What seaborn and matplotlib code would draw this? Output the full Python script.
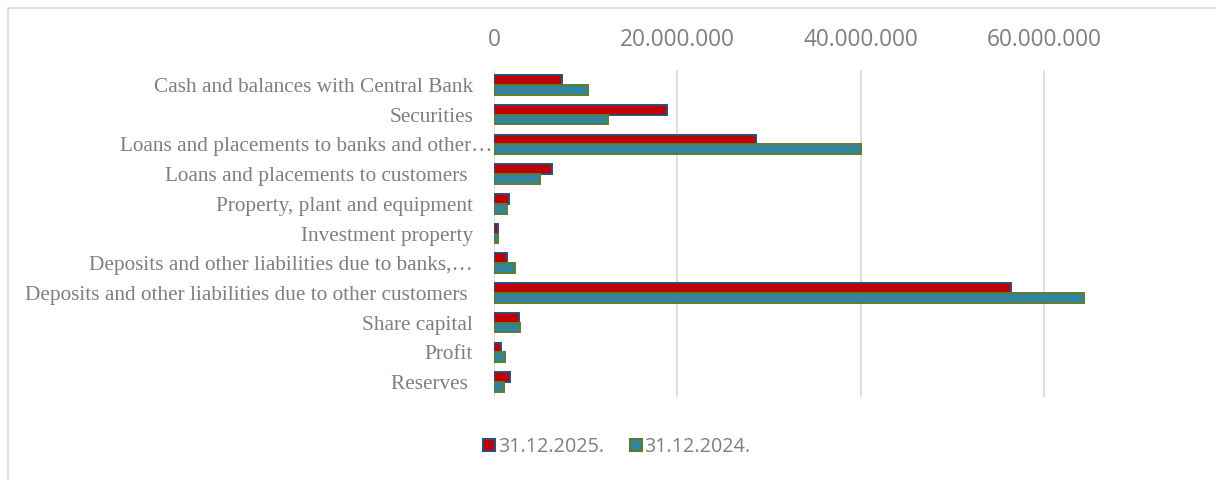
import matplotlib
matplotlib.use("Agg")
import matplotlib.pyplot as plt
import matplotlib.patches as mpatches
import matplotlib.transforms as mtransforms
from matplotlib.ticker import FuncFormatter, MultipleLocator
import pandas as pd
import seaborn as sns

# Balance sheet items (amounts)
items = [
    "Cash and balances with Central Bank",
    "Securities",
    "Loans and placements to banks and other…",
    "Loans and placements to customers ",
    "Property, plant and equipment",
    "Investment property",
    "Deposits and other liabilities due to banks,…",
    "Deposits and other liabilities due to other customers ",
    "Share capital",
    "Profit",
    "Reserves ",
]
periods = ["31.12.2025.", "31.12.2024."]
values_2025 = [7420000, 18880000, 28570000, 6340000, 1600000, 490000,
               1380000, 56400000, 2760000, 760000, 1750000]
values_2024 = [10260000, 12450000, 40000000, 5000000, 1470000, 490000,
               2280000, 64300000, 2800000, 1200000, 1050000]

bar_colors = ["#C00000", "#31849B"]
edge_colors = ["#2E4D7B", "#5E7B2C"]
grey_text = "#7F7F7F"
grid_grey = "#D9D9D9"

df = pd.DataFrame({
    "item": items * 2,
    "period": [periods[0]] * len(items) + [periods[1]] * len(items),
    "value": values_2025 + values_2024,
})

sns.set_theme(style="white")
fig = plt.figure(figsize=(12.16, 4.8), dpi=100)
ax = fig.add_axes([494 / 1216, 1 - 397 / 480, (1136 - 494) / 1216, (397 - 70) / 480])

sns.barplot(data=df, y="item", x="value", hue="period", orient="h",
            palette=bar_colors, width=0.66, order=items, hue_order=periods,
            ax=ax, saturation=1, legend=False)

for container, ec in zip(ax.containers, edge_colors):
    for bar in container:
        bar.set_edgecolor(ec)
        bar.set_linewidth(1.4)

ax.set_xlim(0, 70000000)
ax.set_ylim(len(items) - 0.5, -0.5)
ax.xaxis.set_major_locator(MultipleLocator(20000000))
ax.xaxis.set_major_formatter(FuncFormatter(lambda v, p: f"{int(v):,}".replace(",", ".")))
ax.xaxis.tick_top()
ax.tick_params(axis="x", length=0, pad=13, labelsize=16.3, labelcolor=grey_text)
ax.tick_params(axis="y", length=0, pad=15, labelcolor=grey_text)
for lbl in ax.get_xticklabels():
    lbl.set_fontfamily("Open Sans")
for lbl in ax.get_yticklabels():
    lbl.set_fontfamily("Liberation Serif")
    lbl.set_fontsize(15.3)
# the truncated label runs up to the axis
long_lbl = ax.get_yticklabels()[2]
long_lbl.set_transform(long_lbl.get_transform() +
                       mtransforms.ScaledTranslation(19 / 100, 0, fig.dpi_scale_trans))

ax.set_xlabel("")
ax.set_ylabel("")
ax.grid(axis="x", color=grid_grey, linewidth=1.2)
ax.grid(axis="y", visible=False)
ax.set_axisbelow(True)
for s in ax.spines.values():
    s.set_visible(False)

# legend
handles = [mpatches.Patch(facecolor=c, edgecolor=e, linewidth=1.5, label=l)
           for c, e, l in zip(bar_colors, edge_colors, periods)]
fig.legend(handles=handles, loc="center", bbox_to_anchor=(617 / 1216, 1 - 447 / 480),
           ncol=2, frameon=False, handlelength=0.6, handleheight=0.6,
           handletextpad=0.15, columnspacing=1.3,
           prop={"family": "Open Sans", "size": 14.2}, labelcolor=grey_text)

# chart area frame
frame = mpatches.Rectangle((8 / 1216, -0.05), 1.1, 1 - 8 / 480 + 0.05,
                           transform=fig.transFigure, fill=False,
                           edgecolor=grid_grey, linewidth=1.2, zorder=-1)
fig.patches.append(frame)

fig.savefig("out.png", dpi=100)
